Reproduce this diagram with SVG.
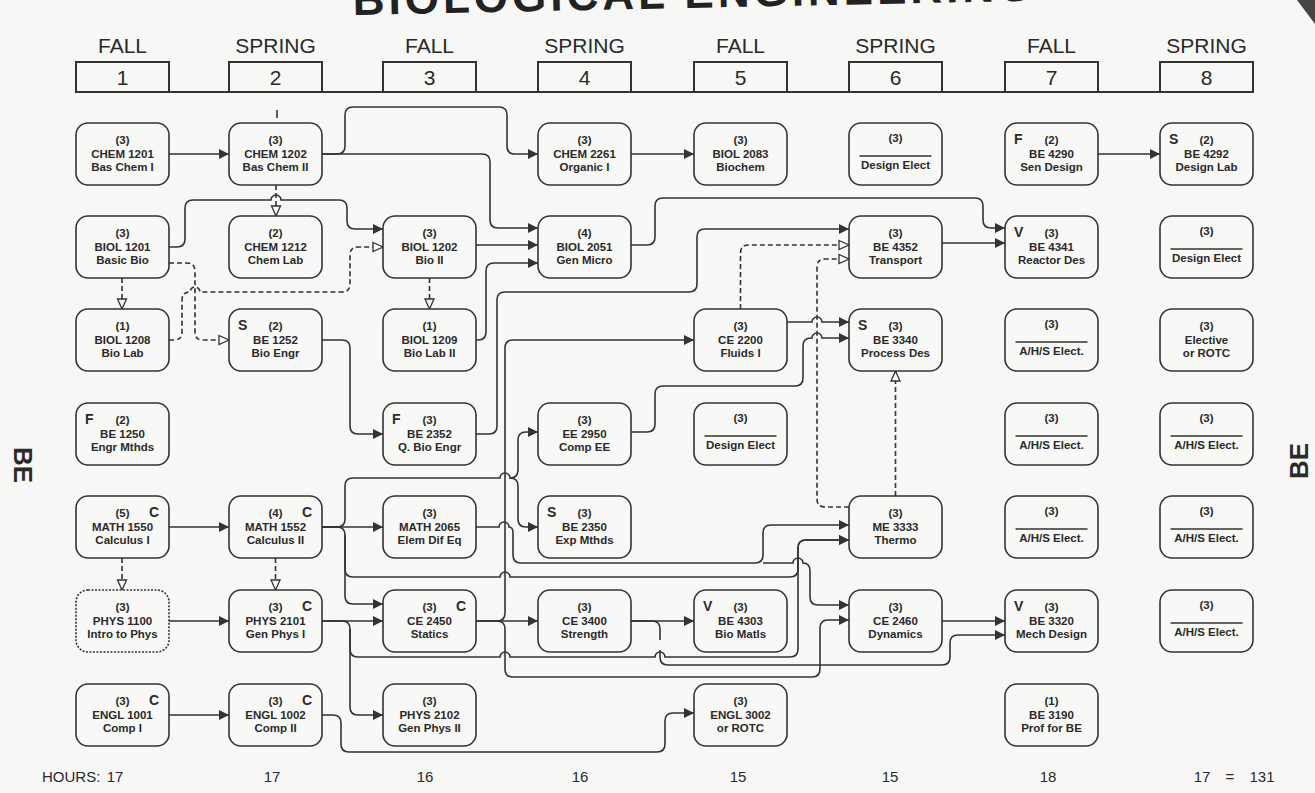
<svg xmlns="http://www.w3.org/2000/svg" width="1315" height="793" viewBox="0 0 1315 793">
<style>
.n rect{fill:#f8f8f6;stroke:#333;stroke-width:1.6}
.t{font-family:"Liberation Sans",Arial,sans-serif;font-size:11.5px;font-weight:bold;fill:#2a2a2a;text-anchor:middle}
.tg{font-family:"Liberation Sans",Arial,sans-serif;font-size:14px;font-weight:bold;fill:#2a2a2a;text-anchor:start}
.ce{text-anchor:end}
.ul{stroke:#333;stroke-width:1.3}
.c{fill:none;stroke:#333;stroke-width:1.6}
.d{stroke-dasharray:5 3}
.s{marker-end:url(#ah)}
.h{marker-end:url(#hh)}
.hd{font-family:"Liberation Sans",Arial,sans-serif;font-size:21px;fill:#2a2a2a;text-anchor:middle}
.hr{font-family:"Liberation Sans",Arial,sans-serif;font-size:15px;fill:#2a2a2a;text-anchor:middle}
.hb{fill:none;stroke:#333;stroke-width:2}
</style>
<defs>
<marker id="ah" viewBox="0 0 10 10" refX="10" refY="5" markerWidth="10" markerHeight="10" markerUnits="userSpaceOnUse" orient="auto"><path d="M0,0L10,5L0,10z" fill="#333"/></marker>
<marker id="hh" viewBox="-1 -1 12 12" refX="10" refY="5" markerWidth="12" markerHeight="12" markerUnits="userSpaceOnUse" orient="auto"><path d="M0,0.5L10,5L0,9.5z" fill="#f8f8f6" stroke="#333" stroke-width="1.3"/></marker>
</defs>
<rect x="0" y="0" width="1315" height="793" fill="#f7f7f5"/>
<g id="title">
<text x="353" y="15" transform="rotate(-1.2 353 15)" font-family="Liberation Sans, Arial, sans-serif" font-size="44" font-weight="bold" letter-spacing="4" fill="#222">BIOLOGICAL ENGINEERING</text>
<polygon points="1297,0 1315,0 1315,24" fill="#444"/>
</g>
<g id="header">
<text class="hd" x="122.5" y="53">FALL</text>
<text class="hd" x="275.5" y="53">SPRING</text>
<text class="hd" x="429.5" y="53">FALL</text>
<text class="hd" x="584.5" y="53">SPRING</text>
<text class="hd" x="740.5" y="53">FALL</text>
<text class="hd" x="895.5" y="53">SPRING</text>
<text class="hd" x="1051.5" y="53">FALL</text>
<text class="hd" x="1206.5" y="53">SPRING</text>
<rect class="hb" x="76" y="62" width="93" height="30"/>
<rect class="hb" x="229" y="62" width="93" height="30"/>
<rect class="hb" x="383" y="62" width="93" height="30"/>
<rect class="hb" x="538" y="62" width="93" height="30"/>
<rect class="hb" x="694" y="62" width="93" height="30"/>
<rect class="hb" x="849" y="62" width="93" height="30"/>
<rect class="hb" x="1005" y="62" width="93" height="30"/>
<rect class="hb" x="1160" y="62" width="93" height="30"/>
<line class="hb" x1="76" y1="92" x2="1253" y2="92"/>
<text class="hd" x="122.5" y="85">1</text>
<text class="hd" x="275.5" y="85">2</text>
<text class="hd" x="429.5" y="85">3</text>
<text class="hd" x="584.5" y="85">4</text>
<text class="hd" x="740.5" y="85">5</text>
<text class="hd" x="895.5" y="85">6</text>
<text class="hd" x="1051.5" y="85">7</text>
<text class="hd" x="1206.5" y="85">8</text>
</g>
<g id="side-labels" font-family="Liberation Sans, Arial, sans-serif" font-size="26" font-weight="bold" fill="#2a2a2a" text-anchor="middle">
<text transform="translate(23,465) rotate(90)" dy="0.35em">BE</text>
<text transform="translate(1299,461) rotate(-90)" dy="0.35em">BE</text>
</g>
<g id="connectors">
<path class="c" d="M277,110V118"/>
<path class="c s" d="M169,154H229"/>
<path class="c s" d="M322,154H337Q345,154 345,146V115Q345,107 353,107H499Q507,107 507,115V146Q507,154 515,154H538"/>
<path class="c s" d="M322,154H482Q490,154 490,162V220Q490,228 498,228H538"/>
<path class="c d h" d="M276,185V216"/>
<path class="c s" d="M169,247H177Q185,247 185,239V208Q185,200 193,200H271a5,5 0 0 1 10,0H339Q347,200 347,208V221Q347,229 355,229H383"/>
<path class="c d h" d="M122,278V309"/>
<path class="c d h" d="M169,263H187Q195,263 195,271V332Q195,340 203,340H229"/>
<path class="c d h" d="M169,340H174Q182,340 182,332V300Q182,292 190,292a5,5 0 0 1 10,0H342Q350,292 350,284V255Q350,247 358,247H383"/>
<path class="c d h" d="M429.5,278V309"/>
<path class="c s" d="M476,245H538"/>
<path class="c s" d="M476,340H478Q486,340 486,332V271Q486,263 494,263H538"/>
<path class="c s" d="M322,340H342Q350,340 350,348V426Q350,434 358,434H383"/>
<path class="c s" d="M476,434H489Q497,434 497,426V300Q497,292 505,292H689Q697,292 697,284V237Q697,229 705,229H849"/>
<path class="c s" d="M631,245H647Q655,245 655,237V206Q655,198 663,198H975Q983,198 983,206V220Q983,228 991,228H1005"/>
<path class="c s" d="M631,154H694"/>
<path class="c d h" d="M740.5,309V253Q740.5,245 748.5,245H849"/>
<path class="c d h" d="M849,507H825Q817,507 817,499V267Q817,259 825,259H849"/>
<path class="c d h" d="M895.5,496V371"/>
<path class="c s" d="M787,322H812a5,5 0 0 1 10,0H849"/>
<path class="c s" d="M631,432H647Q655,432 655,424V394Q655,386 663,386H795Q803,386 803,378V346Q803,338 811,338H812a5,5 0 0 1 10,0H849"/>
<path class="c s" d="M942,243H1005"/>
<path class="c s" d="M1098,154H1160"/>
<path class="c s" d="M169,527H229"/>
<path class="c d h" d="M122,558V590"/>
<path class="c d h" d="M275.5,558V590"/>
<path class="c s" d="M169,621H229"/>
<path class="c s" d="M169,715H229"/>
<path class="c s" d="M322,527H383"/>
<path class="c s" d="M322,527H337Q345,527 345,519V486Q345,478 353,478H500a5,5 0 0 1 10,0Q518,478 518,470V440Q518,432 526,432H538"/>
<path class="c s" d="M510,478Q518,478 518,486V519Q518,527 526,527H538"/>
<path class="c s" d="M476,527H499a5,5 0 0 1 10,0Q513,527 513,533V555Q513,563 521,563H755Q763,563 763,555V533Q763,525 771,525H849"/>
<path class="c s" d="M763,563H793a5,5 0 0 1 10,0Q810,563 810,571V597Q810,605 818,605H849"/>
<path class="c s" d="M322,527H337Q345,527 345,535V569Q345,577 353,577H500a5,5 0 0 1 10,0H790Q798,577 798,569V548Q798,540 806,540H849"/>
<path class="c s" d="M345,535V596Q345,604 353,604H383"/>
<path class="c s" d="M322,621H383"/>
<path class="c s" d="M322,621H342Q350,621 350,629V649Q350,657 358,657H500a5,5 0 0 1 10,0H655a5,5 0 0 1 10,0H790Q798,657 798,649V548Q798,540 806,540H849"/>
<path class="c s" d="M350,629V707Q350,715 358,715H383"/>
<path class="c s" d="M322,715H333Q341,715 341,723V744Q341,752 349,752H657Q665,752 665,744V721Q665,713 673,713H694"/>
<path class="c s" d="M476,621H497Q505,621 505,613V348Q505,340 513,340H694"/>
<path class="c s" d="M476,621H538"/>
<path class="c s" d="M497,621Q505,621 505,629V669Q505,677 513,677H812Q820,677 820,669V628Q820,620 828,620H849"/>
<path class="c s" d="M631,621H694"/>
<path class="c s" d="M631,621H652Q660,621 660,629V640M660,650V657Q660,665 668,665H942Q950,665 950,657V643Q950,635 958,635H1005"/>
<path class="c s" d="M942,621H1005"/>
</g>
<g id="chem1201" class="n"><rect x="76" y="123" width="93" height="62" rx="12"/><text class="t" x="122.5" y="144">(3)<tspan x="122.5" dy="14">CHEM 1201</tspan><tspan x="122.5" dy="13">Bas Chem I</tspan></text></g>
<g id="chem1202" class="n"><rect x="229" y="123" width="93" height="62" rx="12"/><text class="t" x="275.5" y="144">(3)<tspan x="275.5" dy="14">CHEM 1202</tspan><tspan x="275.5" dy="13">Bas Chem II</tspan></text></g>
<g id="chem2261" class="n"><rect x="538" y="123" width="93" height="62" rx="12"/><text class="t" x="584.5" y="144">(3)<tspan x="584.5" dy="14">CHEM 2261</tspan><tspan x="584.5" dy="13">Organic I</tspan></text></g>
<g id="biol2083" class="n"><rect x="694" y="123" width="93" height="62" rx="12"/><text class="t" x="740.5" y="144">(3)<tspan x="740.5" dy="14">BIOL 2083</tspan><tspan x="740.5" dy="13">Biochem</tspan></text></g>
<g id="design-elect-6" class="n"><rect x="849" y="123" width="93" height="62" rx="12"/><text class="t" x="895.5" y="142">(3)</text><line class="ul" x1="859.5" y1="156" x2="931.5" y2="156"/><text class="t" x="895.5" y="169">Design Elect</text></g>
<g id="be4290" class="n"><rect x="1005" y="123" width="93" height="62" rx="12"/><text class="tg" x="1014" y="144">F</text><text class="t" x="1051.5" y="144">(2)<tspan x="1051.5" dy="14">BE 4290</tspan><tspan x="1051.5" dy="13">Sen Design</tspan></text></g>
<g id="be4292" class="n"><rect x="1160" y="123" width="93" height="62" rx="12"/><text class="tg" x="1169" y="144">S</text><text class="t" x="1206.5" y="144">(2)<tspan x="1206.5" dy="14">BE 4292</tspan><tspan x="1206.5" dy="13">Design Lab</tspan></text></g>
<g id="biol1201" class="n"><rect x="76" y="216" width="93" height="62" rx="12"/><text class="t" x="122.5" y="237">(3)<tspan x="122.5" dy="14">BIOL 1201</tspan><tspan x="122.5" dy="13">Basic Bio</tspan></text></g>
<g id="chem1212" class="n"><rect x="229" y="216" width="93" height="62" rx="12"/><text class="t" x="275.5" y="237">(2)<tspan x="275.5" dy="14">CHEM 1212</tspan><tspan x="275.5" dy="13">Chem Lab</tspan></text></g>
<g id="biol1202" class="n"><rect x="383" y="216" width="93" height="62" rx="12"/><text class="t" x="429.5" y="237">(3)<tspan x="429.5" dy="14">BIOL 1202</tspan><tspan x="429.5" dy="13">Bio II</tspan></text></g>
<g id="biol2051" class="n"><rect x="538" y="216" width="93" height="62" rx="12"/><text class="t" x="584.5" y="237">(4)<tspan x="584.5" dy="14">BIOL 2051</tspan><tspan x="584.5" dy="13">Gen Micro</tspan></text></g>
<g id="be4352" class="n"><rect x="849" y="216" width="93" height="62" rx="12"/><text class="t" x="895.5" y="237">(3)<tspan x="895.5" dy="14">BE 4352</tspan><tspan x="895.5" dy="13">Transport</tspan></text></g>
<g id="be4341" class="n"><rect x="1005" y="216" width="93" height="62" rx="12"/><text class="tg" x="1014" y="237">V</text><text class="t" x="1051.5" y="237">(3)<tspan x="1051.5" dy="14">BE 4341</tspan><tspan x="1051.5" dy="13">Reactor Des</tspan></text></g>
<g id="design-elect-8" class="n"><rect x="1160" y="216" width="93" height="62" rx="12"/><text class="t" x="1206.5" y="235">(3)</text><line class="ul" x1="1170.5" y1="249" x2="1242.5" y2="249"/><text class="t" x="1206.5" y="262">Design Elect</text></g>
<g id="biol1208" class="n"><rect x="76" y="309" width="93" height="62" rx="12"/><text class="t" x="122.5" y="330">(1)<tspan x="122.5" dy="14">BIOL 1208</tspan><tspan x="122.5" dy="13">Bio Lab</tspan></text></g>
<g id="be1252" class="n"><rect x="229" y="309" width="93" height="62" rx="12"/><text class="tg" x="238" y="330">S</text><text class="t" x="275.5" y="330">(2)<tspan x="275.5" dy="14">BE 1252</tspan><tspan x="275.5" dy="13">Bio Engr</tspan></text></g>
<g id="biol1209" class="n"><rect x="383" y="309" width="93" height="62" rx="12"/><text class="t" x="429.5" y="330">(1)<tspan x="429.5" dy="14">BIOL 1209</tspan><tspan x="429.5" dy="13">Bio Lab II</tspan></text></g>
<g id="ce2200" class="n"><rect x="694" y="309" width="93" height="62" rx="12"/><text class="t" x="740.5" y="330">(3)<tspan x="740.5" dy="14">CE 2200</tspan><tspan x="740.5" dy="13">Fluids I</tspan></text></g>
<g id="be3340" class="n"><rect x="849" y="309" width="93" height="62" rx="12"/><text class="tg" x="858" y="330">S</text><text class="t" x="895.5" y="330">(3)<tspan x="895.5" dy="14">BE 3340</tspan><tspan x="895.5" dy="13">Process Des</tspan></text></g>
<g id="ahs-elect-7a" class="n"><rect x="1005" y="309" width="93" height="62" rx="12"/><text class="t" x="1051.5" y="328">(3)</text><line class="ul" x1="1015.5" y1="342" x2="1087.5" y2="342"/><text class="t" x="1051.5" y="355">A/H/S Elect.</text></g>
<g id="elective-rotc" class="n"><rect x="1160" y="309" width="93" height="62" rx="12"/><text class="t" x="1206.5" y="330">(3)<tspan x="1206.5" dy="14">Elective</tspan><tspan x="1206.5" dy="13">or ROTC</tspan></text></g>
<g id="be1250" class="n"><rect x="76" y="403" width="93" height="62" rx="12"/><text class="tg" x="85" y="424">F</text><text class="t" x="122.5" y="424">(2)<tspan x="122.5" dy="14">BE 1250</tspan><tspan x="122.5" dy="13">Engr Mthds</tspan></text></g>
<g id="be2352" class="n"><rect x="383" y="403" width="93" height="62" rx="12"/><text class="tg" x="392" y="424">F</text><text class="t" x="429.5" y="424">(3)<tspan x="429.5" dy="14">BE 2352</tspan><tspan x="429.5" dy="13">Q. Bio Engr</tspan></text></g>
<g id="ee2950" class="n"><rect x="538" y="403" width="93" height="62" rx="12"/><text class="t" x="584.5" y="424">(3)<tspan x="584.5" dy="14">EE 2950</tspan><tspan x="584.5" dy="13">Comp EE</tspan></text></g>
<g id="design-elect-5" class="n"><rect x="694" y="403" width="93" height="62" rx="12"/><text class="t" x="740.5" y="422">(3)</text><line class="ul" x1="704.5" y1="436" x2="776.5" y2="436"/><text class="t" x="740.5" y="449">Design Elect</text></g>
<g id="ahs-elect-7b" class="n"><rect x="1005" y="403" width="93" height="62" rx="12"/><text class="t" x="1051.5" y="422">(3)</text><line class="ul" x1="1015.5" y1="436" x2="1087.5" y2="436"/><text class="t" x="1051.5" y="449">A/H/S Elect.</text></g>
<g id="ahs-elect-8a" class="n"><rect x="1160" y="403" width="93" height="62" rx="12"/><text class="t" x="1206.5" y="422">(3)</text><line class="ul" x1="1170.5" y1="436" x2="1242.5" y2="436"/><text class="t" x="1206.5" y="449">A/H/S Elect.</text></g>
<g id="math1550" class="n"><rect x="76" y="496" width="93" height="62" rx="12"/><text class="tg ce" x="159" y="517">C</text><text class="t" x="122.5" y="517">(5)<tspan x="122.5" dy="14">MATH 1550</tspan><tspan x="122.5" dy="13">Calculus I</tspan></text></g>
<g id="math1552" class="n"><rect x="229" y="496" width="93" height="62" rx="12"/><text class="tg ce" x="312" y="517">C</text><text class="t" x="275.5" y="517">(4)<tspan x="275.5" dy="14">MATH 1552</tspan><tspan x="275.5" dy="13">Calculus II</tspan></text></g>
<g id="math2065" class="n"><rect x="383" y="496" width="93" height="62" rx="12"/><text class="t" x="429.5" y="517">(3)<tspan x="429.5" dy="14">MATH 2065</tspan><tspan x="429.5" dy="13">Elem Dif Eq</tspan></text></g>
<g id="be2350" class="n"><rect x="538" y="496" width="93" height="62" rx="12"/><text class="tg" x="547" y="517">S</text><text class="t" x="584.5" y="517">(3)<tspan x="584.5" dy="14">BE 2350</tspan><tspan x="584.5" dy="13">Exp Mthds</tspan></text></g>
<g id="me3333" class="n"><rect x="849" y="496" width="93" height="62" rx="12"/><text class="t" x="895.5" y="517">(3)<tspan x="895.5" dy="14">ME 3333</tspan><tspan x="895.5" dy="13">Thermo</tspan></text></g>
<g id="ahs-elect-7c" class="n"><rect x="1005" y="496" width="93" height="62" rx="12"/><text class="t" x="1051.5" y="515">(3)</text><line class="ul" x1="1015.5" y1="529" x2="1087.5" y2="529"/><text class="t" x="1051.5" y="542">A/H/S Elect.</text></g>
<g id="ahs-elect-8b" class="n"><rect x="1160" y="496" width="93" height="62" rx="12"/><text class="t" x="1206.5" y="515">(3)</text><line class="ul" x1="1170.5" y1="529" x2="1242.5" y2="529"/><text class="t" x="1206.5" y="542">A/H/S Elect.</text></g>
<g id="phys1100" class="n"><rect x="76" y="590" width="93" height="62" rx="12" stroke-dasharray="2 1.5"/><text class="t" x="122.5" y="611">(3)<tspan x="122.5" dy="14">PHYS 1100</tspan><tspan x="122.5" dy="13">Intro to Phys</tspan></text></g>
<g id="phys2101" class="n"><rect x="229" y="590" width="93" height="62" rx="12"/><text class="tg ce" x="312" y="611">C</text><text class="t" x="275.5" y="611">(3)<tspan x="275.5" dy="14">PHYS 2101</tspan><tspan x="275.5" dy="13">Gen Phys I</tspan></text></g>
<g id="ce2450" class="n"><rect x="383" y="590" width="93" height="62" rx="12"/><text class="tg ce" x="466" y="611">C</text><text class="t" x="429.5" y="611">(3)<tspan x="429.5" dy="14">CE 2450</tspan><tspan x="429.5" dy="13">Statics</tspan></text></g>
<g id="ce3400" class="n"><rect x="538" y="590" width="93" height="62" rx="12"/><text class="t" x="584.5" y="611">(3)<tspan x="584.5" dy="14">CE 3400</tspan><tspan x="584.5" dy="13">Strength</tspan></text></g>
<g id="be4303" class="n"><rect x="694" y="590" width="93" height="62" rx="12"/><text class="tg" x="703" y="611">V</text><text class="t" x="740.5" y="611">(3)<tspan x="740.5" dy="14">BE 4303</tspan><tspan x="740.5" dy="13">Bio Matls</tspan></text></g>
<g id="ce2460" class="n"><rect x="849" y="590" width="93" height="62" rx="12"/><text class="t" x="895.5" y="611">(3)<tspan x="895.5" dy="14">CE 2460</tspan><tspan x="895.5" dy="13">Dynamics</tspan></text></g>
<g id="be3320" class="n"><rect x="1005" y="590" width="93" height="62" rx="12"/><text class="tg" x="1014" y="611">V</text><text class="t" x="1051.5" y="611">(3)<tspan x="1051.5" dy="14">BE 3320</tspan><tspan x="1051.5" dy="13">Mech Design</tspan></text></g>
<g id="ahs-elect-8c" class="n"><rect x="1160" y="590" width="93" height="62" rx="12"/><text class="t" x="1206.5" y="609">(3)</text><line class="ul" x1="1170.5" y1="623" x2="1242.5" y2="623"/><text class="t" x="1206.5" y="636">A/H/S Elect.</text></g>
<g id="engl1001" class="n"><rect x="76" y="684" width="93" height="62" rx="12"/><text class="tg ce" x="159" y="705">C</text><text class="t" x="122.5" y="705">(3)<tspan x="122.5" dy="14">ENGL 1001</tspan><tspan x="122.5" dy="13">Comp I</tspan></text></g>
<g id="engl1002" class="n"><rect x="229" y="684" width="93" height="62" rx="12"/><text class="tg ce" x="312" y="705">C</text><text class="t" x="275.5" y="705">(3)<tspan x="275.5" dy="14">ENGL 1002</tspan><tspan x="275.5" dy="13">Comp II</tspan></text></g>
<g id="phys2102" class="n"><rect x="383" y="684" width="93" height="62" rx="12"/><text class="t" x="429.5" y="705">(3)<tspan x="429.5" dy="14">PHYS 2102</tspan><tspan x="429.5" dy="13">Gen Phys II</tspan></text></g>
<g id="engl3002" class="n"><rect x="694" y="684" width="93" height="62" rx="12"/><text class="t" x="740.5" y="705">(3)<tspan x="740.5" dy="14">ENGL 3002</tspan><tspan x="740.5" dy="13">or ROTC</tspan></text></g>
<g id="be3190" class="n"><rect x="1005" y="684" width="93" height="62" rx="12"/><text class="t" x="1051.5" y="705">(1)<tspan x="1051.5" dy="14">BE 3190</tspan><tspan x="1051.5" dy="13">Prof for BE</tspan></text></g>
<g id="hours">
<text class="hr" x="42" y="782" style="text-anchor:start">HOURS:</text>
<text class="hr" x="115" y="782">17</text>
<text class="hr" x="272" y="782">17</text>
<text class="hr" x="425" y="782">16</text>
<text class="hr" x="580" y="782">16</text>
<text class="hr" x="738" y="782">15</text>
<text class="hr" x="890" y="782">15</text>
<text class="hr" x="1048" y="782">18</text>
<text class="hr" x="1202" y="782">17</text>
<text class="hr" x="1230" y="782">=</text>
<text class="hr" x="1262" y="782">131</text>
</g>
</svg>
